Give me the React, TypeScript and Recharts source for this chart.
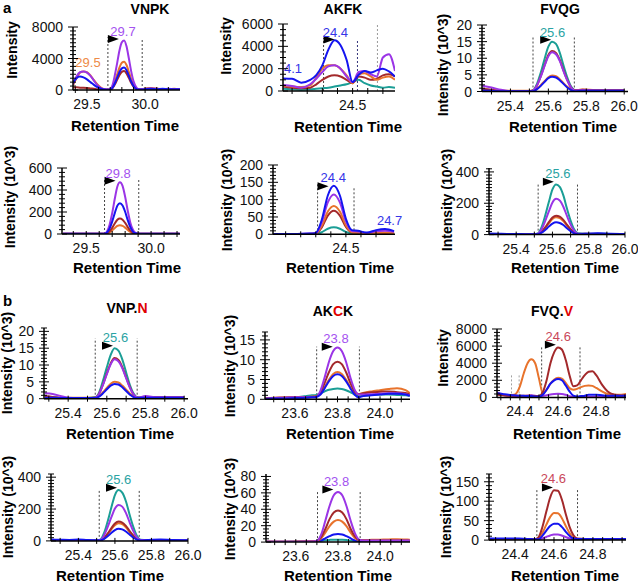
import React from 'react';
import { LineChart, Line, XAxis, YAxis, ReferenceLine, ReferenceDot } from 'recharts';

const FONT = '"Liberation Sans", Arial, Helvetica, sans-serif';

const TEAL = '#1b9e96';
const ORANGE = '#e8732c';
const RED = '#a3292b';
const PURPLE = '#9b35e6';
const BLUE = '#1414f0';

// ---------- a: VNPK ----------
const vnpkTopTime = [29.38, 29.41, 29.44, 29.47, 29.5, 29.53, 29.56, 29.59, 29.62, 29.65, 29.68, 29.7, 29.72, 29.74, 29.76, 29.78, 29.8, 29.82, 29.84, 29.86, 29.88, 29.9, 29.92, 29.94, 29.96, 30.0, 30.05, 30.1, 30.15, 30.2, 30.25, 30.3];
const vnpkTopPurple = [700, 1700, 2250, 2350, 2200, 1800, 1200, 600, 250, 100, 50, 130, 630, 1900, 3450, 5050, 6050, 6300, 5550, 4030, 2400, 1130, 440, 130, 100, 150, 200, 150, 100, 150, 100, 100];
const vnpkTopOrange = [600, 1500, 2200, 2350, 2250, 1850, 1250, 700, 300, 100, 50, 70, 360, 1080, 1980, 2880, 3460, 3600, 3170, 2300, 1370, 650, 250, 70, 80, 200, 250, 150, 120, 100, 150, 80];
const vnpkTopBlue = [900, 1500, 1700, 1600, 1350, 1000, 650, 350, 150, 50, 30, 60, 285, 855, 1570, 2280, 2740, 2850, 2510, 1820, 1080, 510, 200, 60, 50, 100, 150, 100, 150, 100, 80, 100];
const vnpkTopRed = [300, 350, 300, 280, 250, 200, 150, 100, 60, 40, 30, 50, 240, 720, 1320, 1920, 2300, 2400, 2110, 1540, 910, 430, 170, 50, 40, 120, 200, 150, 100, 120, 100, 60];

const vnpkLowTime = [29.32, 29.4, 29.5, 29.6, 29.64, 29.66, 29.68, 29.7, 29.72, 29.74, 29.76, 29.78, 29.8, 29.82, 29.84, 29.86, 29.88, 29.9, 29.95, 30.05, 30.15, 30.22];
const vnpkLowPurple = [3, 3, 3, 3, 3, 23, 85, 188, 320, 432, 470, 437, 338, 212, 103, 38, 9, 3, 3, 3, 3, 3];
const vnpkLowBlue = [3, 3, 3, 3, 3, 14, 50, 112, 190, 258, 280, 260, 202, 126, 62, 22, 6, 3, 3, 3, 3, 3];
const vnpkLowRed = [2, 2, 2, 2, 2, 7, 25, 56, 95, 129, 140, 130, 101, 63, 31, 11, 3, 2, 2, 2, 2, 2];
const vnpkLowOrange = [2, 2, 2, 2, 2, 4, 14, 32, 54, 74, 80, 74, 58, 36, 18, 6, 2, 2, 2, 2, 2, 2];

// ---------- a: AKFK ----------
const akfkTopTime = [24.27, 24.3, 24.33, 24.36, 24.38, 24.4, 24.42, 24.44, 24.46, 24.48, 24.5, 24.52, 24.54, 24.56, 24.58, 24.6, 24.62, 24.64];
const akfkTopBlue = [1130, 1100, 750, 1000, 1430, 2300, 3700, 4550, 4100, 2800, 800, 1450, 1800, 1650, 1850, 2000, 1750, 1300];
const akfkTopPurple = [540, 450, 300, 600, 1100, 1700, 2200, 2300, 2000, 1300, 800, 1700, 1800, 1500, 1300, 3000, 3300, 1800];
const akfkTopOrange = [500, 400, 350, 500, 1200, 2000, 2300, 2300, 2000, 1400, 700, 1500, 1600, 1300, 1000, 1200, 1300, 1000];
const akfkTopRed = [400, 300, 250, 300, 600, 1000, 1300, 1400, 1300, 1000, 700, 1300, 1200, 1000, 1100, 1400, 1500, 1300];
const akfkTopTeal = [200, 150, 100, 150, 200, 250, 300, 400, 500, 600, 800, 1000, 700, 500, 400, 300, 350, 300];

const akfkLowTime = [24.26, 24.3, 24.34, 24.38, 24.4, 24.42, 24.44, 24.46, 24.48, 24.5, 24.52, 24.54, 24.57, 24.6, 24.63, 24.66];
const akfkLowBlue = [1, 1, 1, 2, 4, 42, 112, 140, 112, 45, 12, 10, 5, 12, 15, 9];
const akfkLowPurple = [1, 1, 1, 2, 3, 35, 92, 115, 92, 37, 9, 8, 4, 9, 10, 7];
const akfkLowOrange = [1, 1, 1, 1, 2, 25, 66, 82, 66, 26, 6, 5, 3, 4, 5, 4];
const akfkLowRed = [0, 0, 0, 1, 2, 20, 54, 68, 54, 21, 5, 4, 2, 3, 4, 3];
const akfkLowTeal = [0, 0, 0, 0, 1, 6, 16, 20, 16, 7, 2, 1, 1, 1, 1, 1];

// ---------- a: FVQG ----------
const fvqgTime = [25.25, 25.3, 25.35, 25.4, 25.45, 25.5, 25.52, 25.54, 25.56, 25.58, 25.6, 25.62, 25.64, 25.66, 25.68, 25.7, 25.72, 25.74, 25.78, 25.85, 25.92, 26.0];
const fvqgTopTeal = [0.3, 0.2, 0.1, 0.1, 0.1, 0.1, 0.4, 2.3, 5.7, 9.8, 13.5, 15, 14.3, 11.7, 7.8, 4.2, 1.5, 0.4, 0.3, 0.3, 0.2, 0.2];
const fvqgTopRed = [0.8, 0.5, 0.2, 0.1, 0.1, 0.1, 0.3, 1.8, 4.6, 7.9, 11, 12.2, 11.6, 9.5, 6.3, 3.4, 1.2, 0.4, 0.5, 0.4, 0.4, 0.4];
const fvqgTopPurple = [1.7, 1.2, 0.5, 0.1, 0.1, 0.1, 0.3, 1.8, 4.5, 7.7, 10.6, 11.8, 11.2, 9.2, 6.1, 3.3, 1.2, 0.3, 0.4, 0.3, 0.3, 0.3];
const fvqgTopOrange = [0.7, 0.4, 0.2, 0.2, 0.2, 0.2, 0.3, 0.8, 1.9, 3.1, 4.3, 4.8, 4.6, 3.7, 2.5, 1.4, 0.6, 0.3, 0.6, 0.4, 0.4, 0.4];
const fvqgTopBlue = [0.3, 0.2, 0.1, 0.1, 0.1, 0.1, 0.1, 0.7, 1.7, 2.9, 4.0, 4.4, 4.2, 3.4, 2.3, 1.2, 0.4, 0.1, 0.2, 0.2, 0.2, 0.2];

const fvqgLowTeal = [5, 4, 3, 3, 3, 3, 8, 48, 122, 208, 288, 320, 304, 250, 166, 90, 32, 8, 5, 6, 4, 4];
const fvqgLowPurple = [5, 4, 3, 3, 3, 3, 6, 34, 87, 148, 205, 228, 217, 178, 119, 64, 23, 6, 5, 5, 4, 4];
const fvqgLowRed = [4, 3, 3, 3, 3, 3, 4, 18, 46, 79, 109, 121, 115, 94, 63, 34, 12, 4, 4, 4, 3, 3];
const fvqgLowOrange = [4, 3, 3, 3, 3, 3, 4, 17, 42, 72, 99, 110, 105, 86, 57, 31, 11, 4, 5, 4, 3, 3];
const fvqgLowBlue = [6, 5, 4, 4, 3, 3, 3, 12, 30, 51, 70, 78, 74, 61, 41, 22, 8, 3, 5, 8, 5, 4];

// ---------- b: VNP.N ----------
const vnpnTopTime = [25.28, 25.32, 25.36, 25.4, 25.45, 25.5, 25.54, 25.56, 25.58, 25.6, 25.62, 25.64, 25.66, 25.68, 25.7, 25.72, 25.74, 25.76, 25.8, 25.86, 25.93, 26.0];
const vnpnTopTeal = [0.3, 0.3, 0.2, 0.2, 0.2, 0.2, 0.4, 1.8, 5.3, 9.3, 13, 15, 14.3, 11.7, 7.8, 4, 1.4, 0.4, 0.3, 0.3, 0.3, 0.3];
const vnpnTopRed = [0.8, 0.5, 0.3, 0.2, 0.2, 0.2, 0.3, 1.5, 4.2, 7.5, 10.5, 12.1, 11.5, 9.4, 6.3, 3.3, 1.1, 0.3, 0.4, 0.4, 0.4, 0.4];
const vnpnTopPurple = [1.6, 1.4, 0.8, 0.3, 0.2, 0.2, 0.3, 1.4, 4.1, 7.3, 10.2, 11.7, 11.1, 9.1, 6.1, 3.2, 1.1, 0.3, 0.8, 0.4, 0.4, 0.4];
const vnpnTopOrange = [0.6, 0.4, 0.3, 0.3, 0.3, 0.3, 0.4, 0.8, 1.9, 3.2, 4.4, 5, 4.8, 3.9, 2.7, 1.5, 0.6, 0.3, 0.5, 0.5, 0.5, 0.5];
const vnpnTopBlue = [0.3, 0.3, 0.2, 0.2, 0.2, 0.2, 0.2, 0.6, 1.6, 2.8, 3.9, 4.4, 4.2, 3.4, 2.3, 1.2, 0.4, 0.2, 0.3, 0.3, 0.3, 0.3];

const vnpnLowTeal = [4, 4, 3, 3, 3, 3, 8, 48, 122, 208, 288, 319, 303, 249, 166, 90, 32, 8, 5, 5, 4, 4];
const vnpnLowPurple = [5, 5, 4, 3, 3, 3, 6, 34, 86, 147, 203, 226, 215, 176, 118, 63, 22, 6, 5, 5, 4, 4];
const vnpnLowRed = [4, 3, 3, 3, 3, 3, 4, 18, 46, 79, 109, 121, 115, 94, 63, 34, 12, 4, 4, 4, 3, 3];
const vnpnLowOrange = [4, 3, 3, 3, 3, 3, 4, 17, 42, 72, 99, 110, 105, 86, 57, 31, 11, 4, 5, 4, 3, 3];
const vnpnLowBlue = [8, 7, 6, 8, 5, 4, 3, 11, 29, 49, 68, 76, 72, 59, 40, 21, 8, 3, 6, 9, 5, 4];

// ---------- b: AKCK ----------
const akckTime = [23.46, 23.5, 23.55, 23.6, 23.65, 23.68, 23.7, 23.72, 23.74, 23.76, 23.78, 23.8, 23.82, 23.84, 23.86, 23.88, 23.9, 23.92, 23.96, 24.0, 24.04, 24.08, 24.12, 24.14];
const akckTopPurple = [0.2, 0.3, 0.4, 0.5, 0.5, 0.5, 0.6, 2.2, 5.6, 9.5, 12.2, 13.1, 12.2, 9.5, 5.6, 2.5, 1.2, 1.2, 1.3, 1.4, 1.5, 1.5, 1.3, 1.0];
const akckTopRed = [0.2, 0.3, 0.4, 0.5, 0.5, 0.6, 0.7, 1.7, 4.2, 6.9, 8.9, 9.5, 8.9, 6.9, 4.2, 2.0, 1.3, 1.5, 1.8, 1.9, 2.0, 1.8, 1.6, 1.2];
const akckTopOrange = [0.3, 0.4, 0.5, 0.6, 0.6, 0.7, 0.8, 1.4, 3.1, 5.0, 6.4, 6.9, 6.4, 5.0, 3.1, 1.6, 1.3, 1.6, 2.0, 2.3, 2.6, 2.8, 2.3, 1.6];
const akckTopBlue = [0.1, 0.2, 0.2, 0.3, 0.4, 0.5, 0.6, 1.2, 2.8, 4.6, 5.9, 6.3, 5.9, 4.6, 2.8, 1.2, 0.5, 0.8, 1.0, 1.2, 1.4, 1.4, 1.2, 0.9];
const akckTopTeal = [0.1, 0.2, 0.3, 0.5, 0.8, 1.0, 1.1, 1.5, 2.0, 2.4, 2.6, 2.7, 2.6, 2.3, 1.8, 1.2, 0.8, 0.9, 1.1, 1.2, 1.2, 1.1, 1.0, 0.8];

const akckLowPurple = [0.5, 0.5, 0.5, 0.5, 0.6, 0.8, 1.5, 9, 26, 44, 57, 61, 57, 44, 26, 11, 3, 2, 2, 2, 2, 2, 2, 2];
const akckLowRed = [0.5, 0.5, 0.5, 0.5, 0.6, 0.8, 1.2, 6, 16, 28, 36, 38.5, 36, 28, 16, 7, 2.5, 2, 2, 2, 2, 2, 2, 2];
const akckLowOrange = [0.5, 0.5, 0.5, 0.6, 0.7, 0.9, 1.2, 4.5, 11.5, 19.5, 25, 27, 25, 19.5, 11.5, 5, 2.5, 2.5, 2.8, 3.0, 3.2, 3.5, 3.2, 3.0];
const akckLowBlue = [0.3, 0.3, 0.3, 0.3, 0.4, 0.5, 0.8, 2, 4.5, 7.2, 9.2, 9.8, 9.2, 7.2, 4.5, 2, 0.9, 1, 1.2, 1.3, 1.3, 1.3, 1.2, 1.1];
const akckLowTeal = [0.2, 0.2, 0.2, 0.3, 0.5, 0.8, 1, 1.5, 2.2, 2.7, 3, 3, 2.9, 2.5, 1.8, 1.2, 0.8, 0.7, 0.8, 0.8, 0.8, 0.8, 0.7, 0.6];

// ---------- b: FVQ.V ----------
const fvqvTopTime = [24.28, 24.31, 24.34, 24.37, 24.4, 24.42, 24.44, 24.46, 24.48, 24.5, 24.52, 24.54, 24.56, 24.58, 24.6, 24.62, 24.64, 24.66, 24.68, 24.7, 24.72, 24.74, 24.76, 24.78, 24.8, 24.83, 24.86, 24.9, 24.93, 24.96];
const fvqvTopOrange = [500, 300, 250, 300, 1300, 2800, 4000, 4450, 4000, 2200, 500, 900, 1600, 2100, 2300, 2200, 1700, 1100, 900, 1000, 1200, 1350, 1400, 1350, 1100, 700, 400, 300, 300, 400];
const fvqvTopRed = [300, 250, 200, 200, 200, 200, 200, 200, 150, 150, 600, 2000, 4000, 5300, 5850, 5600, 4400, 2600, 1300, 1400, 2000, 2600, 3000, 3050, 2600, 1500, 700, 300, 200, 250];
const fvqvTopBlue = [500, 400, 300, 250, 200, 200, 150, 150, 100, 100, 300, 900, 1600, 2000, 2150, 2000, 1400, 700, 200, 100, 150, 200, 300, 300, 300, 250, 200, 200, 200, 200];
const fvqvTopPurple = [600, 300, 200, 150, 150, 150, 200, 250, 200, 100, 150, 250, 350, 400, 420, 400, 300, 150, 80, 50, 50, 50, 50, 50, 50, 50, 50, 50, 50, 50];

const fvqvLowTime = [24.27, 24.32, 24.37, 24.42, 24.47, 24.5, 24.52, 24.54, 24.56, 24.58, 24.6, 24.62, 24.64, 24.66, 24.68, 24.7, 24.72, 24.76, 24.82, 24.88, 24.93, 24.97];
const fvqvLowRed = [3, 3, 3, 3, 2, 2, 7, 33, 72, 109, 128, 127, 105, 68, 34, 12, 4, 3, 3, 3, 3, 3];
const fvqvLowOrange = [3, 3, 3, 3, 2, 2, 4, 18, 39, 59, 70, 69, 57, 37, 18, 6, 3, 3, 3, 3, 3, 3];
const fvqvLowBlue = [4, 4, 4, 4, 3, 2, 2, 11, 24, 36, 42, 42, 34, 22, 11, 4, 3, 3, 3, 3, 3, 3];
const fvqvLowPurple = [3, 3, 3, 3, 2, 2, 2, 4, 8, 12, 14.6, 14.5, 12, 8, 4, 2, 2, 2, 2, 2, 2, 2];

// tick marks
const vnpkTicks = [29.4, 29.5, 29.6, 29.7, 29.8, 29.9, 30.0, 30.1, 30.2];
const akfkTicks = [24.3, 24.35, 24.4, 24.45, 24.5, 24.55, 24.6];
const fvqgTicks = [25.3, 25.4, 25.5, 25.6, 25.7, 25.8, 25.9, 26.0];
const akckTicks = [23.5, 23.55, 23.6, 23.65, 23.7, 23.75, 23.8, 23.85, 23.9, 23.95, 24.0, 24.05, 24.1];
const fvqvTicks = [24.3, 24.35, 24.4, 24.45, 24.5, 24.55, 24.6, 24.65, 24.7, 24.75, 24.8, 24.85, 24.9, 24.95];

type Trace = { name: string; color: string; values: number[] };
type Cut = { x: number; top: number; color?: string };
type Note = { x: number; y: number; text: string; color: string; anchor?: 'start' | 'middle' };
type Panel = {
  left: number; top: number; width: number; height: number;
  padRight?: number;
  time: number[];
  traces: Trace[];
  xDomain: [number, number];
  xTicks: number[];
  xLabels: number[];
  yMax: number;
  yMajor: number[];
  yStep: number;
  cuts: Cut[];
  flag: { x: number; y: number };
  notes: Note[];
};

const LBL_PURPLE = '#a452f0';
const LBL_ORANGE = '#ee8a45';
const LBL_BLUE = '#3535e8';
const LBL_TEAL = '#2aa3a3';
const LBL_RED = '#c9485a';

const tr = (name: string, color: string, values: number[]): Trace => ({ name, color, values });

const panels: Panel[] = [
  {
    left: 73, top: 27, width: 107, height: 63,
    time: vnpkTopTime,
    traces: [tr('red', RED, vnpkTopRed), tr('orange', ORANGE, vnpkTopOrange), tr('purple', PURPLE, vnpkTopPurple), tr('blue', BLUE, vnpkTopBlue)],
    xDomain: [29.38, 30.3], xTicks: vnpkTicks, xLabels: [29.5, 30.0],
    yMax: 8000, yMajor: [0, 4000, 8000], yStep: 500,
    cuts: [{ x: 29.68, top: 6700 }, { x: 29.975, top: 6350 }],
    flag: { x: 29.68, y: 6480 },
    notes: [{ x: 29.81, y: 7490, text: '29.7', color: LBL_PURPLE }, { x: 29.509, y: 3560, text: '29.5', color: LBL_ORANGE }],
  },
  {
    left: 283, top: 24, width: 112, height: 67,
    time: akfkTopTime,
    traces: [tr('teal', TEAL, akfkTopTeal), tr('red', RED, akfkTopRed), tr('orange', ORANGE, akfkTopOrange), tr('purple', PURPLE, akfkTopPurple), tr('blue', BLUE, akfkTopBlue)],
    xDomain: [24.27, 24.64], xTicks: akfkTicks, xLabels: [24.5],
    yMax: 6000, yMajor: [0, 2000, 4000, 6000], yStep: 500,
    cuts: [{ x: 24.404, top: 4740 }, { x: 24.516, top: 4560, color: '#33337a' }, { x: 24.582, top: 6000, color: '#9a9a9a' }],
    flag: { x: 24.404, y: 4610 },
    notes: [{ x: 24.443, y: 5280, text: '24.4', color: LBL_BLUE }, { x: 24.273, y: 2060, text: '4.1', color: LBL_BLUE, anchor: 'start' }],
  },
  {
    left: 482, top: 25, width: 146, height: 66.5,
    time: fvqgTime,
    traces: [tr('orange', ORANGE, fvqgTopOrange), tr('teal', TEAL, fvqgTopTeal), tr('red', RED, fvqgTopRed), tr('purple', PURPLE, fvqgTopPurple), tr('blue', BLUE, fvqgTopBlue)],
    xDomain: [25.25, 26.02], xTicks: fvqgTicks, xLabels: [25.4, 25.6, 25.8, 26.0],
    yMax: 20, yMajor: [0, 5, 10, 15, 20], yStep: 1,
    cuts: [{ x: 25.519, top: 16.4 }, { x: 25.737, top: 16.4 }],
    flag: { x: 25.557, y: 15.6 },
    notes: [{ x: 25.622, y: 17.9, text: '25.6', color: LBL_TEAL }],
  },
  {
    left: 62, top: 168.3, width: 118, height: 66,
    time: vnpkLowTime,
    traces: [tr('orange', ORANGE, vnpkLowOrange), tr('red', RED, vnpkLowRed), tr('purple', PURPLE, vnpkLowPurple), tr('blue', BLUE, vnpkLowBlue)],
    xDomain: [29.313, 30.223], xTicks: vnpkTicks, xLabels: [29.5, 30.0],
    yMax: 600, yMajor: [0, 200, 400, 600], yStep: 40,
    cuts: [{ x: 29.641, top: 503 }, { x: 29.905, top: 494 }],
    flag: { x: 29.641, y: 485 },
    notes: [{ x: 29.746, y: 555, text: '29.8', color: LBL_PURPLE }],
  },
  {
    left: 273, top: 165, width: 122, height: 69.3,
    time: akfkLowTime,
    traces: [tr('teal', TEAL, akfkLowTeal), tr('red', RED, akfkLowRed), tr('orange', ORANGE, akfkLowOrange), tr('purple', PURPLE, akfkLowPurple), tr('blue', BLUE, akfkLowBlue)],
    xDomain: [24.258, 24.663], xTicks: akfkTicks, xLabels: [24.5],
    yMax: 200, yMajor: [0, 50, 100, 150, 200], yStep: 10,
    cuts: [{ x: 24.406, top: 145 }, { x: 24.527, top: 136 }],
    flag: { x: 24.406, y: 139 },
    notes: [{ x: 24.458, y: 164, text: '24.4', color: LBL_BLUE }, { x: 24.603, y: 41, text: '24.7', color: LBL_BLUE, anchor: 'start' }],
  },
  {
    left: 489, top: 168.4, width: 136, height: 66.6,
    time: fvqgTime,
    traces: [tr('orange', ORANGE, fvqgLowOrange), tr('red', RED, fvqgLowRed), tr('teal', TEAL, fvqgLowTeal), tr('purple', PURPLE, fvqgLowPurple), tr('blue', BLUE, fvqgLowBlue)],
    xDomain: [25.25, 26.0], xTicks: fvqgTicks, xLabels: [25.4, 25.6, 25.8, 26.0],
    yMax: 425, yMajor: [0, 200, 400], yStep: 20,
    cuts: [{ x: 25.521, top: 331 }, { x: 25.738, top: 331 }],
    flag: { x: 25.547, y: 338 },
    notes: [{ x: 25.63, y: 395, text: '25.6', color: LBL_TEAL }],
  },
  {
    left: 44, top: 327.6, width: 144, height: 70.7,
    time: vnpnTopTime,
    traces: [tr('orange', ORANGE, vnpnTopOrange), tr('teal', TEAL, vnpnTopTeal), tr('red', RED, vnpnTopRed), tr('purple', PURPLE, vnpnTopPurple), tr('blue', BLUE, vnpnTopBlue)],
    xDomain: [25.275, 26.02], xTicks: fvqgTicks, xLabels: [25.4, 25.6, 25.8, 26.0],
    yMax: 21, yMajor: [0, 5, 10, 15, 20], yStep: 1,
    cuts: [{ x: 25.54, top: 17.9 }, { x: 25.757, top: 17.9 }],
    flag: { x: 25.575, y: 15.7 },
    notes: [{ x: 25.645, y: 18.3, text: '25.6', color: LBL_TEAL }],
  },
  {
    left: 265, top: 332, width: 145, height: 67.3,
    time: akckTime,
    traces: [tr('teal', TEAL, akckTopTeal), tr('orange', ORANGE, akckTopOrange), tr('red', RED, akckTopRed), tr('purple', PURPLE, akckTopPurple), tr('blue', BLUE, akckTopBlue)],
    xDomain: [23.459, 24.141], xTicks: akckTicks, xLabels: [23.6, 23.8, 24.0],
    yMax: 17, yMajor: [0, 5, 10, 15], yStep: 1,
    cuts: [{ x: 23.702, top: 13.3 }, { x: 23.903, top: 13.3 }],
    flag: { x: 23.726, y: 13.3 },
    notes: [{ x: 23.793, y: 15.4, text: '23.8', color: LBL_PURPLE }],
  },
  {
    left: 497, top: 329.3, width: 129, height: 68.4,
    time: fvqvTopTime,
    traces: [tr('purple', PURPLE, fvqvTopPurple), tr('orange', ORANGE, fvqvTopOrange), tr('red', RED, fvqvTopRed), tr('blue', BLUE, fvqvTopBlue)],
    xDomain: [24.28, 24.956], xTicks: fvqvTicks, xLabels: [24.4, 24.6, 24.8],
    yMax: 8000, yMajor: [0, 2000, 4000, 6000, 8000], yStep: 400,
    cuts: [{ x: 24.356, top: 2650, color: '#a0a0a0' }, { x: 24.396, top: 2650, color: '#a0a0a0' }, { x: 24.514, top: 5930 }, { x: 24.715, top: 5930 }],
    flag: { x: 24.531, y: 6160 },
    notes: [{ x: 24.601, y: 7130, text: '24.6', color: LBL_RED }],
  },
  {
    left: 51, top: 474.1, width: 137, height: 66.9,
    time: fvqgTime,
    traces: [tr('orange', ORANGE, vnpnLowOrange), tr('red', RED, vnpnLowRed), tr('teal', TEAL, vnpnLowTeal), tr('purple', PURPLE, vnpnLowPurple), tr('blue', BLUE, vnpnLowBlue)],
    xDomain: [25.25, 26.0], xTicks: fvqgTicks, xLabels: [25.4, 25.6, 25.8, 26.0],
    yMax: 420, yMajor: [0, 200, 400], yStep: 20,
    cuts: [{ x: 25.514, top: 321 }, { x: 25.733, top: 321 }],
    flag: { x: 25.551, y: 333 },
    notes: [{ x: 25.62, y: 390, text: '25.6', color: LBL_TEAL }],
  },
  {
    left: 266, top: 474.2, width: 144, height: 68.1,
    time: akckTime,
    traces: [tr('teal', TEAL, akckLowTeal), tr('blue', BLUE, akckLowBlue), tr('orange', ORANGE, akckLowOrange), tr('red', RED, akckLowRed), tr('purple', PURPLE, akckLowPurple)],
    xDomain: [23.459, 24.141], xTicks: akckTicks, xLabels: [23.6, 23.8, 24.0],
    yMax: 83, yMajor: [0, 20, 40, 60, 80], yStep: 4,
    cuts: [{ x: 23.703, top: 62 }, { x: 23.905, top: 62 }],
    flag: { x: 23.726, y: 64 },
    notes: [{ x: 23.793, y: 75, text: '23.8', color: LBL_PURPLE }],
  },
  {
    left: 489, top: 473.9, width: 137, height: 66.1,
    time: fvqvLowTime,
    traces: [tr('purple', PURPLE, fvqvLowPurple), tr('orange', ORANGE, fvqvLowOrange), tr('red', RED, fvqvLowRed), tr('blue', BLUE, fvqvLowBlue)],
    xDomain: [24.266, 24.97], xTicks: fvqvTicks, xLabels: [24.4, 24.6, 24.8],
    yMax: 170, yMajor: [0, 50, 100, 150], yStep: 10,
    cuts: [{ x: 24.512, top: 133 }, { x: 24.721, top: 133 }],
    flag: { x: 24.538, y: 135 },
    notes: [{ x: 24.597, y: 159, text: '24.6', color: LBL_RED }],
  },
];

// page texts (titles and axis names)
const titles = [
  { x: 150, y: 14, parts: [['VNPK', '#000']] },
  { x: 343, y: 14, parts: [['AKFK', '#000']] },
  { x: 560, y: 14, parts: [['FVQG', '#000']] },
  { x: 127, y: 313, parts: [['VNP.', '#000'], ['N', '#e00000']] },
  { x: 333, y: 316, parts: [['AK', '#000'], ['C', '#e00000'], ['K', '#000']] },
  { x: 552, y: 316, parts: [['FVQ.', '#000'], ['V', '#e00000']] },
];
const timeLabels = [
  [125, 131], [348, 132], [563, 132], [127, 273], [340, 273], [565, 273],
  [120, 439], [340, 439], [567, 439], [110, 581], [338, 581], [565, 581],
];
const intensityLabels: [number, number, string][] = [
  [12, 50, 'Intensity'], [226, 46, 'Intensity'], [443, 65, 'Intensity (10^3)'],
  [10, 197, 'Intensity (10^3)'], [227, 200, 'Intensity (10^3)'], [447, 200, 'Intensity (10^3)'],
  [7, 363, 'Intensity (10^3)'], [230, 366, 'Intensity (10^3)'], [443, 358, 'Intensity'],
  [8, 507, 'Intensity (10^3)'], [230, 509, 'Intensity (10^3)'], [446, 507, 'Intensity (10^3)'],
];

const ML = 56;
const MT = 34;
const MB = 24;

const near = (list: number[], v: number) => list.some((l) => Math.abs(l - v) < 1e-6);

const PanelChart = ({ p }: { p: Panel }) => {
  const mr = p.padRight ?? 16;
  const rows = p.time.map((t, i) => {
    const r: any = { t };
    p.traces.forEach((s) => { r[s.name] = s.values[i]; });
    return r;
  });
  const yTicks: number[] = [];
  for (let v = 0; v <= p.yMax + 1e-9; v += p.yStep) yTicks.push(+v.toFixed(4));

  const xTick = (props: any) => {
    const { x, y, payload } = props;
    const v = payload.value;
    return (
      <g>
        <line x1={x} x2={x} y1={y - 3} y2={y + 3} stroke="#000" strokeWidth={1} />
        {near(p.xLabels, v) && (
          <text x={x} y={y + 19} textAnchor="middle" fontSize={14} fontFamily={FONT} fill="#111">{v.toFixed(1)}</text>
        )}
      </g>
    );
  };
  const yTick = (props: any) => {
    const { x, y, payload } = props;
    const v = payload.value;
    const major = near(p.yMajor, v);
    const w = major ? 5 : 3;
    return (
      <g>
        <line x1={x - w} x2={x + w} y1={y} y2={y} stroke="#000" strokeWidth={1} />
        {major && (
          <text x={x - 10} y={y + 5} textAnchor="end" fontSize={14} fontFamily={FONT} fill="#111">{v}</text>
        )}
      </g>
    );
  };

  return (
    <div style={{ position: 'absolute', left: p.left - ML, top: p.top - MT }}>
      <LineChart width={p.width + ML + mr} height={p.height + MT + MB} data={rows} margin={{ top: MT, right: mr, left: 0, bottom: 0 }}>
        <XAxis dataKey="t" type="number" domain={p.xDomain} allowDataOverflow ticks={p.xTicks} interval={0}
          tickSize={0} tickMargin={0} tickLine={false} height={MB} tick={xTick}
          axisLine={{ stroke: '#000', strokeWidth: 1.5 }} />
        <YAxis type="number" domain={[0, p.yMax]} allowDataOverflow ticks={yTicks} interval={0}
          tickSize={0} tickMargin={0} tickLine={false} width={ML} tick={yTick}
          axisLine={{ stroke: '#000', strokeWidth: 1.5 }} />
        {p.cuts.map((c, i) => (
          <ReferenceLine key={'c' + i} segment={[{ x: c.x, y: 0 }, { x: c.x, y: c.top }]}
            stroke={c.color ?? '#444'} strokeWidth={1} strokeDasharray="2 2" ifOverflow="visible" />
        ))}
        {p.traces.map((s) => (
          <Line key={s.name} dataKey={s.name} type="monotone" stroke={s.color} strokeWidth={2}
            dot={false} activeDot={false} isAnimationActive={false} />
        ))}
        <ReferenceDot x={p.flag.x} y={p.flag.y} ifOverflow="visible"
          shape={(s: any) => (
            <polygon points={`${s.cx},${s.cy - 4} ${s.cx + 11},${s.cy} ${s.cx},${s.cy + 4}`} fill="#000" />
          )} />
        {p.notes.map((n, i) => (
          <ReferenceDot key={'n' + i} x={n.x} y={n.y} ifOverflow="visible"
            shape={(s: any) => (
              <text x={s.cx} y={s.cy} dy={5} textAnchor={n.anchor ?? 'middle'} fontSize={13} fontFamily={FONT} fill={n.color}>{n.text}</text>
            )} />
        ))}
      </LineChart>
    </div>
  );
};

export default function App() {
  return (
    <div style={{ position: 'absolute', left: 0, top: 0, width: 638, height: 584, background: '#fff', overflow: 'hidden', fontFamily: FONT }}>
      {panels.map((p, i) => <PanelChart key={i} p={p} />)}
      <svg width={638} height={584} style={{ position: 'absolute', left: 0, top: 0, pointerEvents: 'none' }}>
        <text x={3} y={13} fontSize={15} fontWeight="bold" fontFamily={FONT}>a</text>
        <text x={3} y={306} fontSize={15} fontWeight="bold" fontFamily={FONT}>b</text>
        {titles.map((t, i) => (
          <text key={'t' + i} x={t.x} y={t.y} textAnchor="middle" fontSize={14} fontWeight="bold" fontFamily={FONT}>
            {t.parts.map(([s, c], j) => <tspan key={j} fill={c}>{s}</tspan>)}
          </text>
        ))}
        {timeLabels.map(([x, y], i) => (
          <text key={'r' + i} x={x} y={y} textAnchor="middle" fontSize={15} fontWeight="bold" fontFamily={FONT}>Retention Time</text>
        ))}
        {intensityLabels.map(([x, y, s], i) => (
          <text key={'i' + i} x={x} y={y} transform={`rotate(-90, ${x}, ${y})`} textAnchor="middle" dominantBaseline="central"
            fontSize={14} fontWeight="bold" fontFamily={FONT}>{s}</text>
        ))}
      </svg>
    </div>
  );
}
